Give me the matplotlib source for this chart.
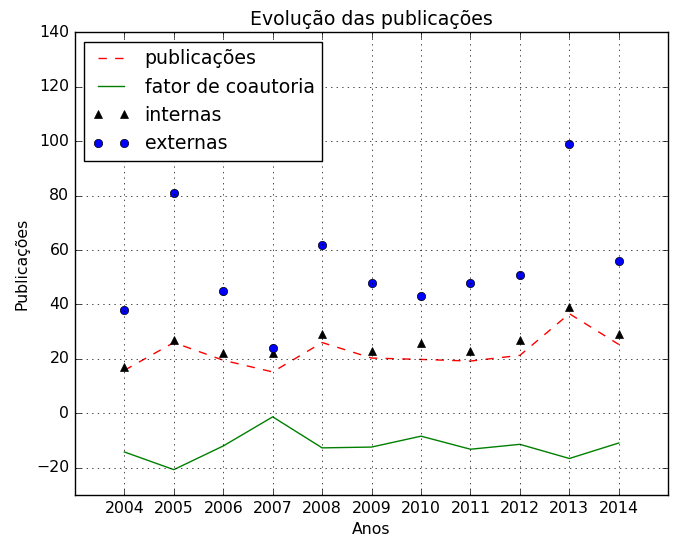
import numpy as np
import matplotlib
matplotlib.use('Agg')
import matplotlib.pyplot as plt

plt.style.use('classic')
plt.rcParams['font.size'] = 11.3
plt.rcParams['axes.formatter.useoffset'] = False

anos = [2004, 2005, 2006, 2007, 2008, 2009, 2010, 2011, 2012, 2013, 2014]
publicacoes = [15.8, 26, 19.5, 15.2, 26, 20.3, 19.8, 19.2, 21.3, 36.6, 25.3]
fator_coautoria = [-14.2, -20.7, -12, -1.3, -12.7, -12.4, -8.4, -13.2, -11.4, -16.6, -10.9]
internas = [17, 27, 22, 22, 29, 23, 26, 23, 27, 39, 29]
externas = [38, 81, 45, 24, 62, 48, 43, 48, 51, 99, 56]

fig = plt.figure(figsize=(6.75, 5.38), dpi=100)
ax = fig.add_axes([0.111, 0.08, 0.879, 0.86])

ax.plot(anos, publicacoes, 'r--', label='publicações')
ax.plot(anos, fator_coautoria, 'g-', label='fator de coautoria')
ax.plot(anos, internas, 'k^', label='internas')
ax.plot(anos, externas, 'bo', label='externas')

ax.set_xlim(2003, 2015)
ax.set_ylim(-30, 140)
ax.set_xticks(anos)
ax.grid(True)
ax.set_title('Evolução das publicações')
ax.set_xlabel('Anos')
ax.set_ylabel('Publicações')
ax.legend(loc='upper left')

fig.savefig('out.png', dpi=100)
